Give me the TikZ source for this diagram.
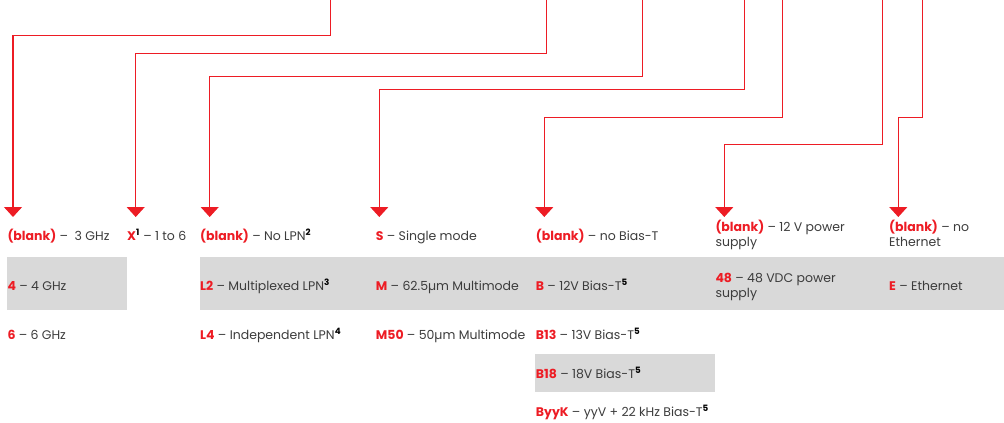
\documentclass[tikz,border=0pt]{standalone}
\usepackage{fontspec}
\setmainfont{Poppins}
\usetikzlibrary{arrows.meta}
\definecolor{brandred}{HTML}{ED1C24}
\definecolor{txtgray}{HTML}{3C3C3C}
\definecolor{boxgray}{HTML}{D9D9D9}
\newcommand{\code}[1]{\textcolor{brandred}{\bfseries #1}}
\newcommand{\fnum}[1]{\textsuperscript{\bfseries\color{black}#1}}
\begin{document}
\begin{tikzpicture}[x=1pt,y=1pt,
  conn/.style={draw=brandred, line width=1.1pt, -{Triangle[width=18pt,length=10pt]}},
  opt/.style={anchor=base west, inner sep=0pt, font=\fontsize{12.5}{15}\selectfont, text=txtgray, align=left}]
\useasboundingbox (0,0) rectangle (1004,-423);
% shaded rows
\fill[boxgray] (7,-257) rectangle (127,-310);
\fill[boxgray] (200,-257) rectangle (1004,-310);
\fill[boxgray] (535,-354) rectangle (715,-392);
% start and tip coordinates
\coordinate (s1) at (330.7,0);   \coordinate (t1) at (13,-217);
\coordinate (s2) at (546.3,0);   \coordinate (t2) at (135.7,-217);
\coordinate (s3) at (642.7,0);   \coordinate (t3) at (209.7,-217);
\coordinate (s4) at (744.3,0);   \coordinate (t4) at (379.3,-217);
\coordinate (s5) at (782.7,0);   \coordinate (t5) at (544.3,-217);
\coordinate (s6) at (882.3,0);   \coordinate (t6) at (724.3,-217);
\coordinate (s7) at (922.7,0);   \coordinate (t7) at (898.3,-217);
% connectors
\draw[conn] (s1) -- ++(0,-35.7) -| (t1);
\draw[conn] (s2) -- ++(0,-53.7) -| (t2);
\draw[conn] (s3) -- ++(0,-76.7) -| (t3);
\draw[conn] (s4) -- ++(0,-89.3) -| (t4);
\draw[conn] (s5) -- ++(0,-117.7) -| (t5);
\draw[conn] (s6) -- ++(0,-144.7) -| (t6);
\draw[conn] (s7) -- ++(0,-117.7) -| (t7);
% row 1
\node[opt] (f1) at (7.3,-240) {\code{(blank)} –\ \ 3 GHz};
\node[opt] (x1) at (127,-240) {\code{X}\fnum{1} – 1 to 6};
\node[opt] (l1) at (200,-240) {\code{(blank)} – No LPN\fnum{2}};
\node[opt] (m1) at (375.7,-240) {\code{S} – Single mode};
\node[opt] (b1) at (535.7,-240) {\code{(blank)} – no Bias-T};
\node[opt] (p1) at (715.3,-246.7) {\code{(blank)} – 12 V power\\supply};
\node[opt] (e1) at (889,-246.7) {\code{(blank)} – no\\Ethernet};
% row 2
\node[opt] (f2) at (7.3,-290) {\code{4} – 4 GHz};
\node[opt] (l2) at (200,-290) {\code{L2} – Multiplexed LPN\fnum{3}};
\node[opt] (m2) at (375.7,-290) {\code{M} – 62.5µm Multimode};
\node[opt] (b2) at (535.7,-290) {\code{B} – 12V Bias-T\fnum{5}};
\node[opt] (p2) at (715.3,-297) {\code{48} – 48 VDC power\\supply};
\node[opt] (e2) at (889,-290) {\code{E} – Ethernet};
% row 3
\node[opt] (f3) at (7.3,-339) {\code{6} – 6 GHz};
\node[opt] (l3) at (200,-339) {\code{L4} – Independent LPN\fnum{4}};
\node[opt] (m3) at (375.7,-339) {\code{M50} – 50µm Multimode};
\node[opt] (b3) at (535.7,-339) {\code{B13} – 13V Bias-T\fnum{5}};
% rows 4-5
\node[opt] (b4) at (535.7,-378.3) {\code{B18} – 18V Bias-T\fnum{5}};
\node[opt] (b5) at (535.7,-416) {\code{ByyK} – yyV + 22 kHz Bias-T\fnum{5}};
\end{tikzpicture}
\end{document}
